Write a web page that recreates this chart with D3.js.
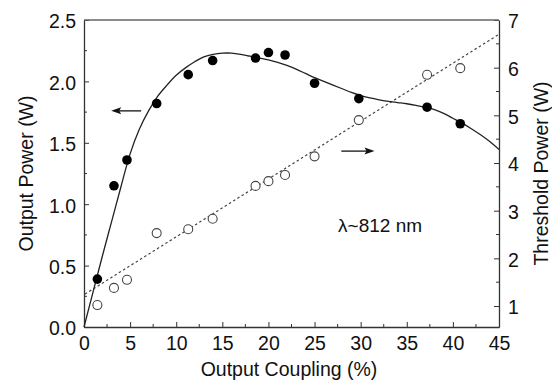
<!DOCTYPE html>
<html>
<head>
<meta charset="utf-8">
<script src="https://cdn.jsdelivr.net/npm/d3@7"></script>
<style>
    body { margin: 0; background: #fff; }
    svg { display: block; font-family: "Liberation Sans", Arial, sans-serif; }
    .tick-label { font-size: 19.5px; fill: #111; }
    .axis-title { font-size: 19.5px; fill: #111; }
    .note { font-size: 19px; fill: #111; }
</style>
</head>
<body>
<div id="chart"></div>
<script>
// measured points
var coupling = [1.45, 3.25, 4.66, 7.88, 11.3, 13.95, 18.6, 20.0, 21.8, 25.0, 29.8, 37.2, 40.8];
var outputPower = [0.39, 1.15, 1.36, 1.82, 2.055, 2.17, 2.19, 2.235, 2.215, 1.985, 1.86, 1.79, 1.655];
var thresholdPower = [1.02, 1.38, 1.55, 2.53, 2.61, 2.83, 3.52, 3.62, 3.75, 4.14, 4.90, 5.85, 5.99];

// theory curve (output power)
var curveX = [0, 1, 2, 3, 4, 5, 6, 7, 8, 9, 10, 11, 12, 13, 14, 15, 16, 17, 18, 19, 20, 21, 22, 23, 24, 25,
    26, 27, 28, 29, 30, 31, 32, 33, 34, 35, 36, 37, 38, 39, 40, 41, 42, 43, 44, 45];
var curvePower = [0, 0.29, 0.58, 0.86, 1.14, 1.41, 1.61, 1.76, 1.88, 1.97, 2.05, 2.11, 2.16, 2.20, 2.22, 2.23,
    2.23, 2.22, 2.205, 2.19, 2.175, 2.155, 2.13, 2.10, 2.065, 2.03, 2.0, 1.97, 1.94, 1.91, 1.885, 1.865,
    1.85, 1.838, 1.828, 1.818, 1.805, 1.79, 1.77, 1.74, 1.70, 1.66, 1.615, 1.565, 1.51, 1.445];

// linear fit (threshold)
var fitX = [0.1, 45];
var fitThreshold = [1.25, 6.70];

var xTicks = [0, 5, 10, 15, 20, 25, 30, 35, 40, 45];
var leftTicks = [0, 0.5, 1.0, 1.5, 2.0, 2.5];
var rightTicks = [1, 2, 3, 4, 5, 6, 7];

var width = 552, height = 384;
var margin = { top: 20, right: 53, bottom: 57, left: 84 };
var w = width - margin.left - margin.right,
    h = height - margin.top - margin.bottom;

var svg = d3.select('#chart').append('svg')
    .attr('width', width)
    .attr('height', height);

var g = svg.append('g')
    .attr('transform', 'translate(' + margin.left + ',' + margin.top + ')');

var x = d3.scaleLinear().domain([0, 45]).range([0, w]);
var yLeft = d3.scaleLinear().domain([0, 2.5]).range([h, 0]);
var yRight = d3.scaleLinear().domain([0.56, 7]).range([h, 0]);

var axisColor = '#333';

var xMinor = d3.range(2.5, 45, 5);
var leftMinor = d3.range(0.25, 2.5, 0.5);
var rightMinor = d3.range(1.5, 7, 1);

var xAxis = g.append('g')
    .attr('transform', 'translate(0,' + h + ')')
    .call(d3.axisBottom(x).tickValues(xTicks).tickSizeInner(-5).tickSizeOuter(0).tickPadding(9)
        .tickFormat(d3.format('d')));
xAxis.selectAll('line').attr('stroke', axisColor);
xAxis.select('.domain').attr('stroke', axisColor).attr('stroke-width', 1.3);
xAxis.selectAll('text').attr('class', 'tick-label');

g.append('g')
    .attr('transform', 'translate(0,' + h + ')')
    .selectAll('line').data(xMinor).enter().append('line')
    .attr('x1', function (d) { return x(d); })
    .attr('x2', function (d) { return x(d); })
    .attr('y1', 0).attr('y2', -3)
    .attr('stroke', axisColor);

var lAxis = g.append('g')
    .call(d3.axisLeft(yLeft).tickValues(leftTicks).tickSizeInner(-5).tickSizeOuter(0).tickPadding(8)
        .tickFormat(d3.format('.1f')));
lAxis.selectAll('line').attr('stroke', axisColor);
lAxis.select('.domain').attr('stroke', axisColor).attr('stroke-width', 1.3);
lAxis.selectAll('text').attr('class', 'tick-label').attr('dy', '0.4em');

g.append('g').selectAll('line').data(leftMinor).enter().append('line')
    .attr('x1', 0).attr('x2', 3)
    .attr('y1', function (d) { return yLeft(d); })
    .attr('y2', function (d) { return yLeft(d); })
    .attr('stroke', axisColor);

var rAxis = g.append('g')
    .attr('transform', 'translate(' + w + ',0)')
    .call(d3.axisRight(yRight).tickValues(rightTicks).tickSizeInner(-5).tickSizeOuter(0).tickPadding(9)
        .tickFormat(d3.format('d')));
rAxis.selectAll('line').attr('stroke', axisColor);
rAxis.select('.domain').attr('stroke', axisColor).attr('stroke-width', 1.3);
rAxis.selectAll('text').attr('class', 'tick-label').attr('dy', '0.4em');

g.append('g')
    .attr('transform', 'translate(' + w + ',0)')
    .selectAll('line').data(rightMinor).enter().append('line')
    .attr('x1', 0).attr('x2', -3)
    .attr('y1', function (d) { return yRight(d); })
    .attr('y2', function (d) { return yRight(d); })
    .attr('stroke', axisColor);

// top frame
g.append('line')
    .attr('x1', 0).attr('x2', w)
    .attr('y1', 0).attr('y2', 0)
    .attr('stroke', '#666').attr('stroke-width', 1.3);

// fit line (dashed)
var fitData = fitX.map(function (d, i) { return { x: d, y: fitThreshold[i] }; });
g.append('path')
    .datum(fitData)
    .attr('fill', 'none')
    .attr('stroke', '#444')
    .attr('stroke-width', 1.2)
    .attr('stroke-dasharray', '2.5,2.5')
    .attr('d', d3.line()
        .x(function (d) { return x(d.x); })
        .y(function (d) { return yRight(d.y); }));

// theory curve
var curveData = curveX.map(function (d, i) { return { x: d, y: curvePower[i] }; });
g.append('path')
    .datum(curveData)
    .attr('fill', 'none')
    .attr('stroke', '#222')
    .attr('stroke-width', 1.3)
    .attr('d', d3.line().curve(d3.curveCatmullRom)
        .x(function (d) { return x(d.x); })
        .y(function (d) { return yLeft(d.y); }));

// threshold points (open)
g.append('g').selectAll('circle')
    .data(coupling.map(function (d, i) { return { x: d, y: thresholdPower[i] }; }))
    .enter().append('circle')
    .attr('cx', function (d) { return x(d.x); })
    .attr('cy', function (d) { return yRight(d.y); })
    .attr('r', 4.5)
    .attr('fill', '#fff')
    .attr('stroke', '#444')
    .attr('stroke-width', 1.1);

// output power points (filled)
g.append('g').selectAll('circle')
    .data(coupling.map(function (d, i) { return { x: d, y: outputPower[i] }; }))
    .enter().append('circle')
    .attr('cx', function (d) { return x(d.x); })
    .attr('cy', function (d) { return yLeft(d.y); })
    .attr('r', 4.8)
    .attr('fill', '#000');

// arrows
function arrow(x1, x2, yPix) {
    var dir = x2 > x1 ? 1 : -1;
    g.append('line')
        .attr('x1', x1).attr('x2', x2 - dir * 6)
        .attr('y1', yPix).attr('y2', yPix)
        .attr('stroke', '#111').attr('stroke-width', 1.3);
    g.append('path')
        .attr('d', 'M' + x2 + ',' + yPix + 'L' + (x2 - dir * 10) + ',' + (yPix - 3.5) +
            'L' + (x2 - dir * 8) + ',' + yPix + 'L' + (x2 - dir * 10) + ',' + (yPix + 3.5) + 'Z')
        .attr('fill', '#111');
}
arrow(x(6.2), x(2.95), yLeft(1.76));
arrow(x(27.9), x(31.5), yRight(4.25));

// annotation
g.append('text')
    .attr('class', 'note')
    .attr('x', x(27.55))
    .attr('y', yRight(2.56))
    .text('λ~812 nm');

// axis titles
svg.append('text')
    .attr('class', 'axis-title')
    .attr('text-anchor', 'middle')
    .attr('x', 289)
    .attr('y', height - 8)
    .text('Output Coupling (%)');

svg.append('text')
    .attr('class', 'axis-title')
    .attr('text-anchor', 'middle')
    .attr('transform', 'translate(33,' + (margin.top + h / 2) + ') rotate(-90)')
    .text('Output Power (W)');

svg.append('text')
    .attr('class', 'axis-title')
    .attr('text-anchor', 'middle')
    .attr('transform', 'translate(548,' + (margin.top + h / 2) + ') rotate(-90)')
    .text('Threshold Power (W)');
</script>
</body>
</html>
